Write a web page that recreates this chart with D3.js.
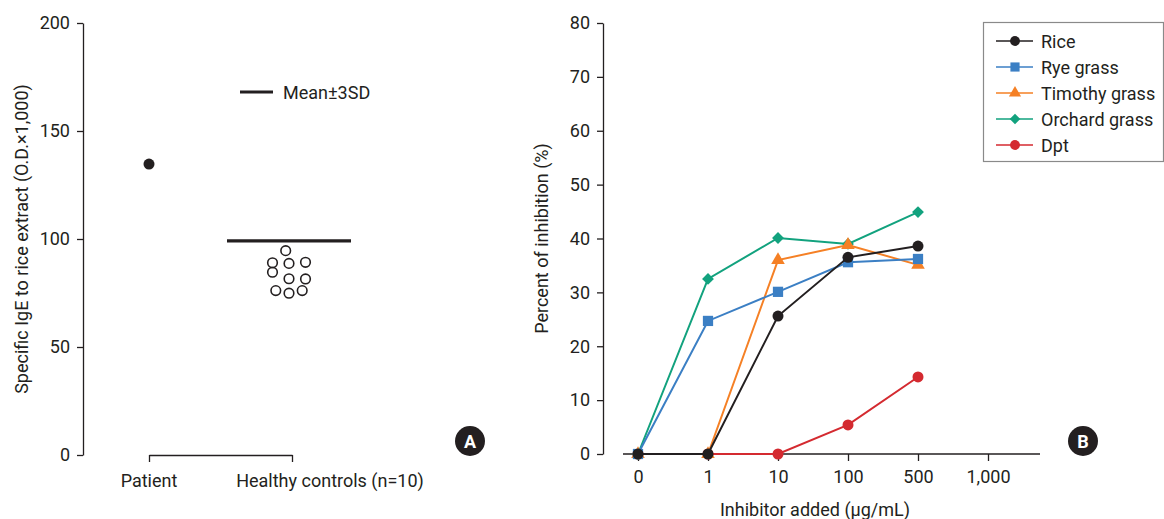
<!DOCTYPE html>
<html>
<head>
<meta charset="utf-8">
<script src="https://cdn.jsdelivr.net/npm/d3@7"></script>
<style>
  body { margin: 0; background: #fff; }
  svg text { font-family: "Roboto", sans-serif; fill: #231f20; }
</style>
</head>
<body>
<div id="chart"></div>
<script>
// Panel A data
const groupsA = ['Patient', 'Healthy controls (n=10)'];
const patientValue = 134.7;
const controlValues = [94.6, 89.0, 88.7, 89.2, 84.6, 81.6, 81.5, 76.1, 74.9, 76.1];
const controlColumn = [-0.2, -1, 0, 1, -1, 0, 1, -0.8, 0, 0.8];
const meanPlus3SD = 99.1;
const ticksA = [0, 50, 100, 150, 200];

// Panel B data
const doses = ['0', '1', '10', '100', '500', '1,000'];
const seriesNames = ['Rice', 'Rye grass', 'Timothy grass', 'Orchard grass', 'Dpt'];
const seriesColors = ['#231f20', '#3b7fc4', '#f58025', '#12a27e', '#d42a30'];
const seriesSymbols = ['circle', 'square', 'triangle', 'diamond', 'circle'];
const rice = [0, 0, 25.6, 36.5, 38.6];
const ryeGrass = [0, 24.7, 30.1, 35.6, 36.2];
const timothyGrass = [0, 0, 36.0, 38.8, 35.1];
const orchardGrass = [0, 32.5, 40.1, 39.0, 44.9];
const dpt = [0, 0, 0, 5.4, 14.3];
const ticksB = [0, 10, 20, 30, 40, 50, 60, 70, 80];

const seriesValues = [rice, ryeGrass, timothyGrass, orchardGrass, dpt];
const ink = '#231f20';
const fs = 18;

const svg = d3.select('#chart').append('svg')
  .attr('width', 1164).attr('height', 519);

// ---------- Panel A ----------
const yA = d3.scaleLinear().domain([0, 200]).range([455, 23]);
const xA = d3.scalePoint().domain(groupsA).range([149, 292]);

const gA = svg.append('g');
gA.append('g')
  .attr('transform', 'translate(83,0)')
  .call(d3.axisLeft(yA).tickValues(ticksA).tickSize(6).tickPadding(7).tickSizeOuter(0))
  .call(g => g.selectAll('path, line').attr('stroke', ink).attr('stroke-width', 1.3))
  .call(g => g.selectAll('text').attr('font-size', fs).attr('fill', ink)
    .attr('font-family', 'Roboto, sans-serif'));

// bracket on the bottom
gA.append('g')
  .attr('transform', 'translate(0,455)')
  .call(d3.axisBottom(xA).tickSize(7).tickSizeOuter(0).tickFormat(''))
  .call(g => g.selectAll('path, line').attr('stroke', ink).attr('stroke-width', 1.3));

gA.selectAll('.grpLabel').data(groupsA).enter().append('text')
  .attr('class', 'grpLabel')
  .attr('x', (d, i) => xA(d) + (i === 1 ? 38 : 0))
  .attr('y', 487)
  .attr('text-anchor', 'middle')
  .attr('font-size', fs)
  .text(d => d);

gA.append('text')
  .attr('transform', `translate(28,${yA(100)}) rotate(-90)`)
  .attr('text-anchor', 'middle')
  .attr('font-size', fs)
  .text('Specific IgE to rice extract (O.D.×1,000)');

// patient point
gA.append('circle')
  .attr('cx', xA('Patient')).attr('cy', yA(patientValue)).attr('r', 5.5)
  .attr('fill', ink);

// mean line
const meanX = xA(groupsA[1]) - 3;
gA.append('line')
  .attr('x1', meanX - 62).attr('x2', meanX + 62)
  .attr('y1', yA(meanPlus3SD)).attr('y2', yA(meanPlus3SD))
  .attr('stroke', ink).attr('stroke-width', 3.2);

// controls
gA.selectAll('.ctrl').data(controlValues).enter().append('circle')
  .attr('class', 'ctrl')
  .attr('cx', (d, i) => meanX + controlColumn[i] * 16.5)
  .attr('cy', d => yA(d))
  .attr('r', 4.8)
  .attr('fill', 'none')
  .attr('stroke', ink)
  .attr('stroke-width', 1.6);

// legend A
gA.append('line').attr('x1', 240).attr('x2', 273).attr('y1', 92).attr('y2', 92)
  .attr('stroke', ink).attr('stroke-width', 3.2);
gA.append('text').attr('x', 283).attr('y', 98.5).attr('font-size', fs).text('Mean±3SD');

// badge A
gA.append('circle').attr('cx', 470).attr('cy', 441).attr('r', 15).attr('fill', ink);
gA.append('text').attr('x', 470).attr('y', 447.5).attr('text-anchor', 'middle')
  .attr('font-size', 18).attr('font-weight', 'bold').style('fill', '#fff')
  .attr('font-family', 'Roboto, sans-serif').text('A');

// ---------- Panel B ----------
const yB = d3.scaleLinear().domain([0, 80]).range([454, 23]);
const xB = d3.scalePoint().domain(doses).range([638, 988]);

const gB = svg.append('g');
gB.append('g')
  .attr('transform', 'translate(603,0)')
  .call(d3.axisLeft(yB).tickValues(ticksB).tickSize(6).tickPadding(7).tickSizeOuter(0))
  .call(g => g.selectAll('path, line').attr('stroke', ink).attr('stroke-width', 1.3))
  .call(g => g.selectAll('text').attr('font-size', fs).attr('fill', ink)
    .attr('font-family', 'Roboto, sans-serif'));

const xAxisB = gB.append('g')
  .attr('transform', 'translate(0,454)')
  .call(d3.axisBottom(xB).tickSize(7).tickPadding(9))
  .call(g => g.select('.domain').remove())
  .call(g => g.selectAll('line').attr('stroke', ink).attr('stroke-width', 1.3))
  .call(g => g.selectAll('text').attr('font-size', fs).attr('fill', ink)
    .attr('font-family', 'Roboto, sans-serif'));
xAxisB.append('line')
  .attr('x1', xB(doses[0]) - 15).attr('x2', xB(doses[doses.length - 1]) + 52)
  .attr('stroke', ink).attr('stroke-width', 1.3);

gB.append('text')
  .attr('transform', `translate(548,${yB(40)}) rotate(-90)`)
  .attr('text-anchor', 'middle').attr('font-size', fs)
  .text('Percent of inhibition (%)');
gB.append('text')
  .attr('x', (xB(doses[0]) + xB(doses[doses.length - 1])) / 2 + 2).attr('y', 516)
  .attr('text-anchor', 'middle').attr('font-size', fs)
  .text('Inhibitor added (μg/mL)');

const symbolType = { circle: d3.symbolCircle, square: d3.symbolSquare, triangle: d3.symbolTriangle, diamond: d3.symbolSquare };
const symbolSize = { circle: 95, square: 105, triangle: 80, diamond: 70 };
const symbolRot = { circle: 0, square: 0, triangle: 0, diamond: 45 };
const line = d3.line().x((d, i) => xB(doses[i])).y(d => yB(d));

// draw order: Dpt first, then others, Rice on top
const order = [4, 3, 2, 1, 0];
order.forEach(k => {
  const s = seriesSymbols[k];
  gB.append('path').datum(seriesValues[k])
    .attr('d', line).attr('fill', 'none')
    .attr('stroke', seriesColors[k]).attr('stroke-width', 2);
  gB.selectAll(null).data(seriesValues[k]).enter().append('path')
    .attr('transform', (d, i) => `translate(${xB(doses[i])},${yB(d)}) rotate(${symbolRot[s]})`)
    .attr('d', d3.symbol().type(symbolType[s]).size(symbolSize[s]))
    .attr('fill', seriesColors[k]);
});

// legend B
const legend = gB.append('g').attr('transform', 'translate(983,22)');
legend.append('rect').attr('x', 0.5).attr('y', 0.5).attr('width', 180).attr('height', 139)
  .attr('fill', '#fff').attr('stroke', '#8a8a8a').attr('stroke-width', 1.2);
const items = legend.selectAll('.item').data(seriesNames).enter().append('g')
  .attr('class', 'item')
  .attr('transform', (d, i) => `translate(0,${19 + i * 26})`);
items.append('line').attr('x1', 13).attr('x2', 50)
  .attr('stroke', (d, i) => seriesColors[i]).attr('stroke-width', 1.6);
items.append('path')
  .attr('transform', (d, i) => `translate(32,0) rotate(${symbolRot[seriesSymbols[i]]})`)
  .attr('d', (d, i) => d3.symbol().type(symbolType[seriesSymbols[i]]).size(symbolSize[seriesSymbols[i]] * 0.8)())
  .attr('fill', (d, i) => seriesColors[i]);
items.append('text').attr('x', 58).attr('y', 6.5).attr('font-size', fs).text(d => d);

// badge B
gB.append('circle').attr('cx', 1083).attr('cy', 441).attr('r', 15).attr('fill', ink);
gB.append('text').attr('x', 1083).attr('y', 447.5).attr('text-anchor', 'middle')
  .attr('font-size', 18).attr('font-weight', 'bold').style('fill', '#fff')
  .attr('font-family', 'Roboto, sans-serif').text('B');
</script>
</body>
</html>
